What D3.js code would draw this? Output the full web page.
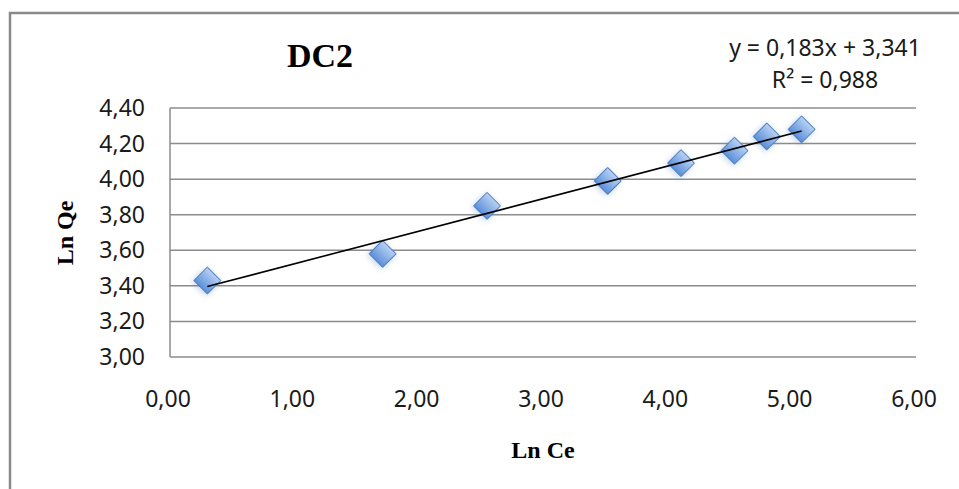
<!DOCTYPE html>
<html>
<head>
<meta charset="utf-8">
<script src="https://cdn.jsdelivr.net/npm/d3@7"></script>
<style>
  body { margin: 0; background: #fff; }
</style>
</head>
<body>
<div class="chart"></div>
<script>
// data
var lnCe = [0.30, 1.71, 2.55, 3.52, 4.11, 4.54, 4.80, 5.08]
var lnQe = [3.43, 3.58, 3.85, 3.99, 4.09, 4.16, 4.24, 4.28]
var xTicks = [0, 1, 2, 3, 4, 5, 6]
var yTicks = [3.0, 3.2, 3.4, 3.6, 3.8, 4.0, 4.2, 4.4]
var trend = [0.183, 3.341] // slope, intercept
var eqLines = ["y = 0,183x + 3,341", "R² = 0,988"]

var W = 959, H = 489

var svg = d3.select(".chart")
  .append("svg")
  .attr("width", W)
  .attr("height", H)

svg.append("rect")
  .attr("width", W)
  .attr("height", H)
  .style("fill", "#fff")

// outer border (left + top only visible)
svg.append("path")
  .attr("d", "M10,489 L10,13 L959,13")
  .style("fill", "none")
  .style("stroke", "#8a8a8a")
  .style("stroke-width", 2.5)

var defs = svg.append("defs")
var grad = defs.append("linearGradient")
  .attr("id", "dia")
  .attr("x1", 0).attr("y1", 0).attr("x2", 0).attr("y2", 1)
grad.append("stop").attr("offset", "0%").attr("stop-color", "#b8d1f4")
grad.append("stop").attr("offset", "100%").attr("stop-color", "#5b8fd9")

var shadow = defs.append("filter")
  .attr("id", "glow")
  .attr("x", "-60%").attr("y", "-60%")
  .attr("width", "220%").attr("height", "220%")
shadow.append("feDropShadow")
  .attr("dx", 0).attr("dy", 2)
  .attr("stdDeviation", 3)
  .attr("flood-color", "#5a84c0")
  .attr("flood-opacity", 0.35)

var x = d3.scaleLinear().domain([0, 6]).range([170, 916])
var y = d3.scaleLinear().domain([3, 4.4]).range([357, 108])

var fmt = function (d) { return d3.format(".2f")(d).replace(".", ",") }

// grid lines
svg.append("g")
  .selectAll("line")
  .data(yTicks)
  .join("line")
  .attr("x1", x(0))
  .attr("x2", x(6))
  .attr("y1", d => y(d))
  .attr("y2", d => y(d))
  .style("stroke", "#8c8c8c")
  .style("stroke-width", 1.5)

// left axis line
svg.append("line")
  .attr("x1", x(0)).attr("x2", x(0))
  .attr("y1", y(3)).attr("y2", y(4.4))
  .style("stroke", "#8c8c8c")
  .style("stroke-width", 1.5)

// y tick labels
svg.append("g")
  .selectAll("text")
  .data(yTicks)
  .join("text")
  .attr("x", 145)
  .attr("y", d => y(d))
  .attr("dy", "0.35em")
  .attr("text-anchor", "end")
  .text(fmt)
  .style("font-size", "23px")
  .attr("font-family", "Noto Sans, sans-serif")
  .attr("fill", "#1a1a1a")

// x tick labels
svg.append("g")
  .selectAll("text")
  .data(xTicks)
  .join("text")
  .attr("x", d => x(d) - 2)
  .attr("y", 407)
  .attr("text-anchor", "middle")
  .text(fmt)
  .style("font-size", "23px")
  .attr("font-family", "Noto Sans, sans-serif")
  .attr("fill", "#1a1a1a")

// markers
var diamond = d3.symbol().type(d3.symbolSquare).size(360)
svg.append("g")
  .selectAll("path")
  .data(lnCe)
  .join("path")
  .attr("d", diamond)
  .attr("transform", (d, i) => "translate(" + x(d) + "," + y(lnQe[i]) + ") rotate(45)")
  .style("fill", "url(#dia)")
  .style("stroke", "#4a7cc0")
  .style("stroke-width", 1)
  .attr("filter", "url(#glow)")

// trend line over markers
var x0 = d3.min(lnCe), x1 = d3.max(lnCe)
svg.append("line")
  .attr("x1", x(x0))
  .attr("y1", y(trend[0] * x0 + trend[1]))
  .attr("x2", x(x1))
  .attr("y2", y(trend[0] * x1 + trend[1]))
  .style("stroke", "#000")
  .style("stroke-width", 1.6)

// title
svg.append("text")
  .attr("x", 320)
  .attr("y", 67)
  .attr("text-anchor", "middle")
  .text("DC2")
  .style("font-size", "34px")
  .attr("font-family", "Liberation Serif, serif")
  .attr("font-weight", "bold")
  .attr("fill", "#000")

// equation
eqLines.forEach((t, i) => {
  svg.append("text")
    .attr("x", 825)
    .attr("y", 56 + i * 32)
    .attr("text-anchor", "middle")
    .text(t)
    .style("font-size", "23px")
    .attr("font-family", "Noto Sans, sans-serif")
    .attr("fill", "#1a1a1a")
})

// axis titles
svg.append("text")
  .attr("x", 543)
  .attr("y", 458)
  .attr("text-anchor", "middle")
  .text("Ln Ce")
  .style("font-size", "24px")
  .attr("font-family", "Liberation Serif, serif")
  .attr("font-weight", "bold")
  .attr("fill", "#000")

svg.append("text")
  .attr("text-anchor", "middle")
  .attr("transform", "translate(73,233) rotate(-90)")
  .text("Ln Qe")
  .style("font-size", "24px")
  .attr("font-family", "Liberation Serif, serif")
  .attr("font-weight", "bold")
  .attr("fill", "#000")
</script>
</body>
</html>
